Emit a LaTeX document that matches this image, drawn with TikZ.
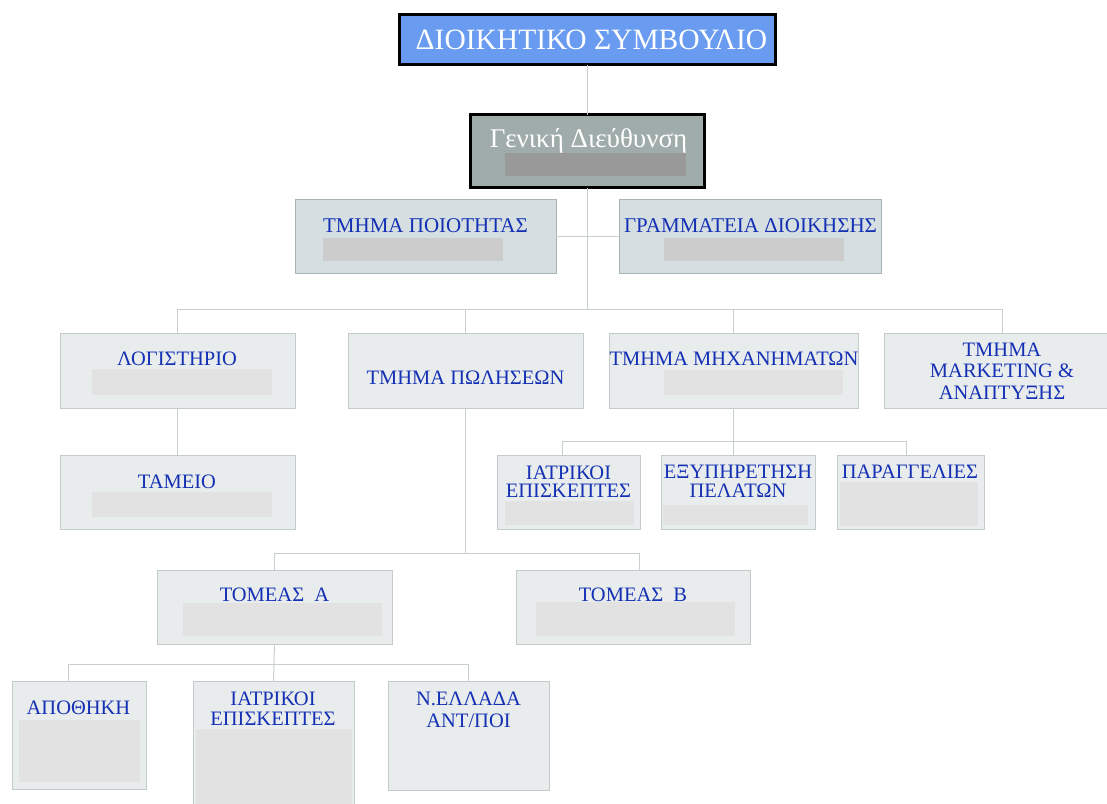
\documentclass[tikz,border=0pt]{standalone}
\usepackage{fontspec}
\setmainfont{Liberation Serif}
\definecolor{titlefill}{RGB}{105,155,240}
\definecolor{genfill}{RGB}{160,172,170}
\definecolor{genbar}{RGB}{153,153,153}
\definecolor{midfill}{RGB}{213,222,224}
\definecolor{midline}{RGB}{170,180,180}
\definecolor{midbar}{RGB}{204,204,204}
\definecolor{lowfill}{RGB}{232,236,236}
\definecolor{lowline}{RGB}{195,203,203}
\definecolor{lowbar}{RGB}{226,226,226}
\definecolor{tblue}{RGB}{20,48,180}
\definecolor{connc}{RGB}{200,207,207}
\newcommand\orgbox[6]{\node[#6, minimum width={(#4-#2)*1pt}, minimum height={(#5-#3)*1pt}] (#1) at ({(#2+#4)/2},{(#3+#5)/2}) {};}
\newcommand\orgbar[5]{\fill[#5] (#1,#2) rectangle (#3,#4);}
\tikzset{
  anybox/.style={rectangle, inner sep=0pt, outer sep=0pt},
  topbox/.style={anybox, draw=black, line width=3pt, fill=titlefill},
  genbox/.style={anybox, draw=black, line width=3pt, fill=genfill},
  midbox/.style={anybox, draw=midline, line width=0.9pt, fill=midfill},
  lowbox/.style={anybox, draw=lowline, line width=0.9pt, fill=lowfill},
  txt/.style={inner sep=0pt, align=center, text=tblue, font=\fontsize{20.5}{20}\selectfont},
  midtxt/.style={txt, font=\fontsize{21}{21}\selectfont},
  wtxt/.style={inner sep=0pt, text=white},
  conn/.style={draw=connc, line width=1pt}
}
\begin{document}
\begin{tikzpicture}[x=1pt,y=-1pt]
\useasboundingbox (0,0) rectangle (1107,803);
% boxes
\orgbox{top}{399.5}{14.5}{775.5}{64.5}{topbox}
\orgbox{gen}{470.5}{114.5}{704.5}{187.5}{genbox}
\orgbox{qual}{295}{199}{556}{273}{midbox}
\orgbox{gram}{619}{199}{881}{273}{midbox}
\orgbox{log}{60}{333}{295}{408}{lowbox}
\orgbox{sales}{348}{333}{583}{408}{lowbox}
\orgbox{mach}{609}{333}{858}{408}{lowbox}
\orgbox{mkt}{884}{333}{1120}{408}{lowbox}
\orgbox{tam}{60}{455}{295}{529}{lowbox}
\orgbox{iat1}{497}{455}{640}{529}{lowbox}
\orgbox{exy}{661}{455}{815}{529}{lowbox}
\orgbox{par}{837}{455}{984}{529}{lowbox}
\orgbox{tomA}{157}{570}{392}{644}{lowbox}
\orgbox{tomB}{516}{570}{750}{644}{lowbox}
\orgbox{apo}{12}{681}{146}{789}{lowbox}
\orgbox{iat2}{193}{681}{354}{808}{lowbox}
\orgbox{nel}{388}{681}{549}{790}{lowbox}
% bars
\orgbar{505}{153}{686}{176}{genbar}
\orgbar{323}{238}{503}{261}{midbar}
\orgbar{664}{238}{844}{261}{midbar}
\orgbar{92}{369}{272}{395}{lowbar}
\orgbar{664}{370}{843}{395}{lowbar}
\orgbar{92}{492}{272}{517}{lowbar}
\orgbar{505}{501}{634}{525}{lowbar}
\orgbar{663}{505}{808}{525}{lowbar}
\orgbar{840}{482}{978}{526}{lowbar}
\orgbar{183}{603}{382}{636}{lowbar}
\orgbar{536}{602}{735}{636}{lowbar}
\orgbar{19}{720}{140}{782}{lowbar}
\orgbar{196}{729}{352}{808}{lowbar}
% texts
\node[wtxt, font=\fontsize{29.5}{29.5}\selectfont] (ttop) at (591.5,39.5) {ΔΙΟΙΚΗΤΙΚΟ ΣΥΜΒΟΥΛΙΟ};
\node[wtxt, font=\fontsize{27}{27}\selectfont, anchor=base] (tgen) at (588.5,147) {Γενική Διεύθυνση};
\node[midtxt] (tqual) at (425.5,226) {ΤΜΗΜΑ ΠΟΙΟΤΗΤΑΣ};
\node[midtxt] (tgram) at (750.5,226) {ΓΡΑΜΜΑΤΕΙΑ ΔΙΟΙΚΗΣΗΣ};
\node[txt] (tlog) at (177,358.5) {ΛΟΓΙΣΤΗΡΙΟ};
\node[txt] (tsales) at (465.5,377.5) {ΤΜΗΜΑ ΠΩΛΗΣΕΩΝ};
\node[txt] (tmach) at (734,358.5) {ΤΜΗΜΑ ΜΗΧΑΝΗΜΑΤΩΝ};
\node[txt, font=\fontsize{20.5}{21.5}\selectfont] (tmkt) at (1002,371) {ΤΜΗΜΑ\\MARKETING \&\\ΑΝΑΠΤΥΞΗΣ};
\node[txt] (ttam) at (177,481.5) {ΤΑΜΕΙΟ};
\node[txt, font=\fontsize{20.5}{18.5}\selectfont] (tiat1) at (568.5,481.5) {ΙΑΤΡΙΚΟΙ\\ΕΠΙΣΚΕΠΤΕΣ};
\node[txt, font=\fontsize{20.5}{18.5}\selectfont] (texy) at (738,481.5) {ΕΞΥΠΗΡΕΤΗΣΗ\\ΠΕΛΑΤΩΝ};
\node[txt] (tpar) at (910,471.5) {ΠΑΡΑΓΓΕΛΙΕΣ};
\node[txt] (ttomA) at (274.5,595) {ΤΟΜΕΑΣ\ \ Α};
\node[txt] (ttomB) at (633,595) {ΤΟΜΕΑΣ\ \ Β};
\node[txt] (tapo) at (78.5,708) {ΑΠΟΘΗΚΗ};
\node[txt, font=\fontsize{20.5}{20}\selectfont] (tiat2) at (273,709) {ΙΑΤΡΙΚΟΙ\\ΕΠΙΣΚΕΠΤΕΣ};
\node[txt, font=\fontsize{20.5}{22}\selectfont] (tnel) at (468.5,710) {Ν.ΕΛΛΑΔΑ\\ΑΝΤ/ΠΟΙ};
% connectors
\draw[conn] (top.south) -- (gen.north);
\draw[conn] (gen.south) -- ++(0,121.5);
\draw[conn] (qual.east) -- (gram.west);
\draw[conn] (log.north) -- ++(0,-24) -| (mkt.north);
\draw[conn] (sales.north) -- ++(0,-24);
\draw[conn] (mach.north) -- ++(0,-24);
\draw[conn] (log.south) -- (tam.north);
\draw[conn] (mach.south) -- (mach.south |- exy.north);
\draw[conn] ([xshift=-6.5pt]iat1.north) -- ++(0,-14) -| ([xshift=-4.5pt]par.north);
\draw[conn] (sales.south) -- ++(0,145);
\draw[conn] (tomA.north) -- ++(0,-17) -| ([xshift=6pt]tomB.north);
\draw[conn] (tomA.south) -- (iat2.north);
\draw[conn] ([xshift=-11pt]apo.north) -- ++(0,-17) -| (nel.north);
\end{tikzpicture}
\end{document}
